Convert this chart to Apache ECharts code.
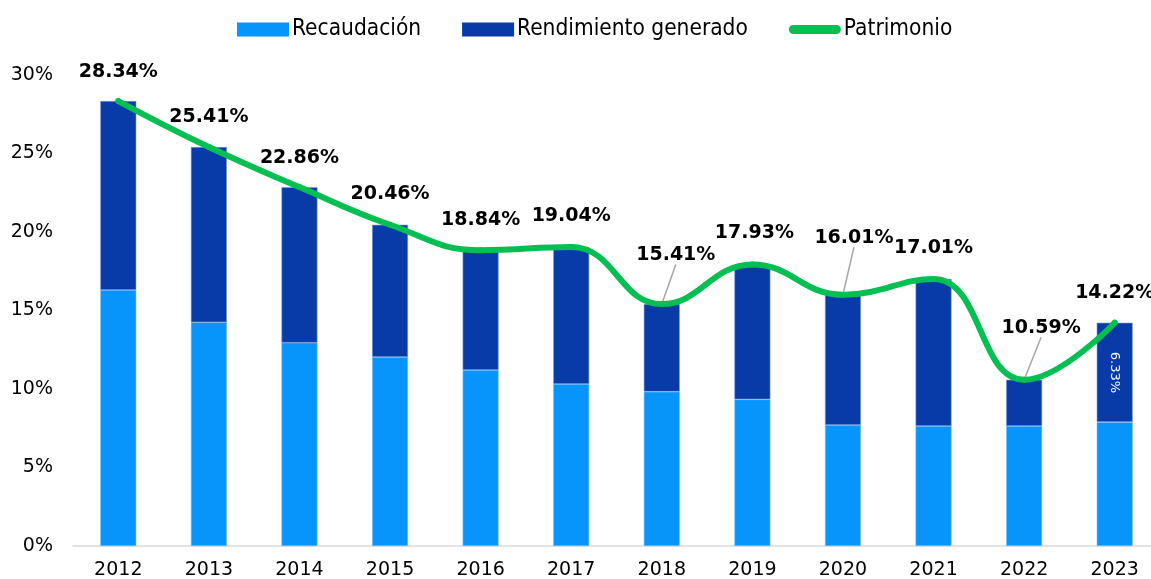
<!DOCTYPE html>
<html>
<head>
<meta charset="utf-8">
<script src="https://cdn.jsdelivr.net/npm/echarts@6/dist/echarts.min.js"></script>
<style>
  html, body { margin: 0; padding: 0; background: #fff; }
  #main { width: 1151px; height: 579px; }
</style>
</head>
<body>
<div id="main"></div>
<script>
var years = ['2012', '2013', '2014', '2015', '2016', '2017', '2018', '2019', '2020', '2021', '2022', '2023'];
var recaudacion = [16.31, 14.25, 12.95, 12.04, 11.21, 10.32, 9.83, 9.34, 7.71, 7.64, 7.64, 7.89];
var rendimiento = [12.03, 11.16, 9.91, 8.42, 7.63, 8.72, 5.58, 8.59, 8.30, 9.37, 2.95, 6.33];
var patrimonio = [28.34, 25.41, 22.86, 20.46, 18.84, 19.04, 15.41, 17.93, 16.01, 17.01, 10.59, 14.22];
var yTicks = [0, 5, 10, 15, 20, 25, 30];

// where each Patrimonio label sits, relative to its point
var labelShift = [[0, -29], [0, -30], [0, -29], [0, -31], [0, -30], [0, -31],
                  [14, -49], [2, -31], [11, -57], [0, -31], [17, -52], [0, -30]];
var guided = [6, 8, 10];

var font = 'DejaVu Sans';
var capsule = 'path://M4.5,0 L47.5,0 A4.5,4.5 0 0 1 47.5,9 L4.5,9 A4.5,4.5 0 0 1 4.5,0 Z';
var myChart = echarts.init(document.getElementById('main'));

var lineData = patrimonio.map(function (v, i) {
    var item = { value: v };
    if (guided.indexOf(i) >= 0) {
        item.labelLine = { show: true, lineStyle: { color: '#a6a6a6', width: 1.5 } };
    }
    return item;
});

var darkData = rendimiento.map(function (v, i) {
    if (i === rendimiento.length - 1) {
        return {
            value: v,
            label: {
                show: true, position: 'inside', rotate: -90,
                color: '#fff', fontSize: 13, fontFamily: font,
                formatter: function (p) { return p.value.toFixed(2) + '%'; }
            }
        };
    }
    return v;
});

var option = {
    animation: false,
    textStyle: { fontFamily: font },
    legend: {
        top: 13,
        left: 232,
        itemWidth: 52,
        itemHeight: 14,
        itemGap: 41,
        itemStyle: { borderWidth: 0 },
        textStyle: { fontFamily: 'DejaVu Sans Condensed', fontSize: 22.5, color: '#000', padding: [0, 0, 0, -2] },
        data: [
            { name: 'Recaudación', icon: 'rect' },
            { name: 'Rendimiento generado', icon: 'rect' },
            { name: 'Patrimonio', icon: capsule, itemStyle: { color: '#06BF52' } }
        ]
    },
    grid: { left: 73, right: -9, top: 75, bottom: 33, outerBoundsMode: 'none', containLabel: false },
    xAxis: {
        type: 'category',
        data: years,
        axisTick: { show: false },
        axisLine: { lineStyle: { color: '#d9d9d9', width: 1.5 } },
        axisLabel: { color: '#000', fontSize: 19, margin: 15, fontFamily: font }
    },
    yAxis: {
        type: 'value',
        min: yTicks[0],
        max: yTicks[yTicks.length - 1],
        interval: yTicks[1] - yTicks[0],
        splitLine: { show: false },
        axisLine: { show: false },
        axisTick: { show: false },
        axisLabel: { color: '#000', fontSize: 19, margin: 20, formatter: '{value}%', fontFamily: font }
    },
    series: [
        {
            name: 'Recaudación',
            type: 'bar',
            stack: 'total',
            barWidth: 36,
            data: recaudacion,
            itemStyle: { color: '#0795FC', borderColor: '#7cc0f7', borderWidth: 0.6 }
        },
        {
            name: 'Rendimiento generado',
            type: 'bar',
            stack: 'total',
            barWidth: 36,
            data: darkData,
            itemStyle: { color: '#083BA7', borderColor: '#7f9ad6', borderWidth: 0.6 }
        },
        {
            name: 'Patrimonio',
            type: 'line',
            data: lineData,
            smooth: 0.45,
            symbol: 'circle',
            symbolSize: 6,
            itemStyle: { color: '#06BF52' },
            lineStyle: { color: '#06BF52', width: 6, cap: 'round' },
            label: {
                show: true,
                position: 'inside',
                color: '#000',
                fontSize: 19,
                fontWeight: 'bold',
                fontFamily: font,
                formatter: function (p) { return p.value.toFixed(2) + '%'; }
            },
            labelLayout: function (p) {
                var s = labelShift[p.dataIndex];
                return { dx: s[0], dy: s[1] };
            },
            z: 5
        }
    ]
};
myChart.setOption(option);
</script>
</body>
</html>
